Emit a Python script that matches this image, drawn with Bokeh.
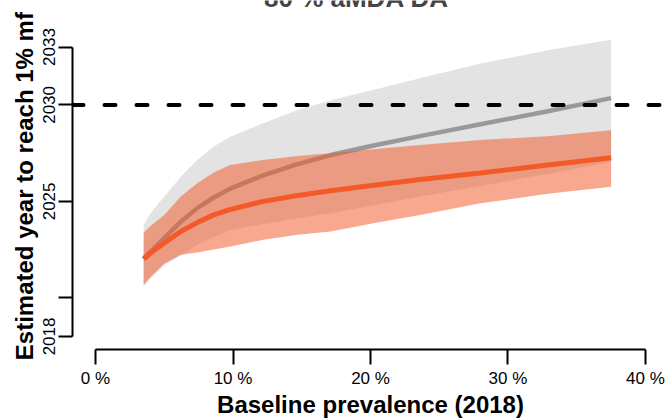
from bokeh.plotting import figure
from bokeh.models import Range1d, FixedTicker, Span, Label, Title, ColumnDataSource
from bokeh.embed import file_html
from bokeh.resources import INLINE

# ---- data ----
prevalence = [3.5, 4.0, 5.0, 6.2, 7.4, 8.6, 9.8, 12.2, 14.7, 17.1, 20.4, 23.6, 28.0, 32.9, 37.5]

grey_median = [2022.03, 2022.40, 2023.10, 2023.95, 2024.65, 2025.20, 2025.66, 2026.35,
               2026.93, 2027.40, 2027.92, 2028.38, 2029.00, 2029.67, 2030.35]
grey_upper = [2023.78, 2024.39, 2025.25, 2026.28, 2027.14, 2027.85, 2028.35, 2029.05,
              2029.73, 2030.24, 2030.81, 2031.38, 2032.14, 2032.83, 2033.38]
grey_lower = [2020.59, 2021.00, 2021.70, 2022.20, 2022.75, 2023.16, 2023.52, 2023.83,
              2024.12, 2024.39, 2024.82, 2025.25, 2025.80, 2026.42, 2027.05]

orange_median = [2022.01, 2022.32, 2022.84, 2023.44, 2023.90, 2024.30, 2024.58, 2025.00,
                 2025.30, 2025.55, 2025.85, 2026.13, 2026.47, 2026.88, 2027.26]
orange_upper = [2023.38, 2023.73, 2024.30, 2025.25, 2025.94, 2026.50, 2026.88, 2027.15,
                2027.35, 2027.49, 2027.71, 2027.92, 2028.18, 2028.38, 2028.69]
orange_lower = [2020.68, 2021.08, 2021.77, 2022.23, 2022.35, 2022.51, 2022.66, 2023.01,
                2023.27, 2023.44, 2023.89, 2024.30, 2024.90, 2025.39, 2025.76]

target_year = 2030

x_ticks = [0, 10, 20, 30, 40]
x_tick_labels = ["0 %", "10 %", "20 %", "30 %", "40 %"]
y_ticks = [2018, 2020, 2025, 2030, 2033]
y_tick_labels = ["2018", "", "2025", "2030", "2033"]

title_text = "80 % aMDA DA"
x_title = "Baseline prevalence (2018)"
y_title = "Estimated year to reach 1% mf"

# ---- styling ----
FONT = "Liberation Sans"
GREY_BAND = "#E3E3E3"
GREY_LINE = "#999999"
ORANGE = "#F4592A"

src = ColumnDataSource(dict(
    x=prevalence,
    gm=grey_median, gu=grey_upper, gl=grey_lower,
    om=orange_median, ou=orange_upper, ol=orange_lower,
))

p = figure(
    width=668, height=420,
    x_range=Range1d(-1.673, 41.673),
    y_range=Range1d(2017.323, 2035.411),
    output_backend="svg", toolbar_location=None,
    min_border_left=72, min_border_right=0, min_border_top=0, min_border_bottom=70,
)
p.outline_line_color = None
p.grid.visible = False
p.background_fill_color = "white"
p.border_fill_color = "white"

# bands and lines
p.varea(x="x", y1="gl", y2="gu", source=src, fill_color=GREY_BAND, fill_alpha=1.0)
p.line(x="x", y="gm", source=src, line_color=GREY_LINE, line_width=4.5)
p.varea(x="x", y1="ol", y2="ou", source=src, fill_color=ORANGE, fill_alpha=0.52)
p.line(x="x", y="om", source=src, line_color=ORANGE, line_width=5)

p.add_layout(Span(location=target_year, dimension="width", line_color="black",
                  line_width=4, line_dash="11 21", line_cap="round"))

# axes
xa = p.xaxis[0]
xa.ticker = FixedTicker(ticks=x_ticks)
xa.major_label_overrides = {float(t): s for t, s in zip(x_ticks, x_tick_labels)}
xa.bounds = (x_ticks[0], x_ticks[-1])
ya = p.yaxis[0]
ya.ticker = FixedTicker(ticks=y_ticks)
ya.major_label_overrides = {float(t): s for t, s in zip(y_ticks, y_tick_labels)}
ya.bounds = (y_ticks[0], y_ticks[-1])
ya.major_label_orientation = "vertical"

for ax in (xa, ya):
    ax.axis_line_width = 2
    ax.axis_line_color = "black"
    ax.major_tick_line_width = 2
    ax.major_tick_line_color = "black"
    ax.minor_tick_line_color = None
    ax.major_tick_in = 0
    ax.major_label_text_font = FONT
    ax.major_label_text_font_size = "17px"
    ax.major_label_text_color = "black"
xa.major_tick_out = 15
xa.major_label_standoff = 4
xa.axis_label = x_title
xa.axis_label_text_font = FONT
xa.axis_label_text_font_size = "24px"
xa.axis_label_text_font_style = "bold"
xa.axis_label_text_color = "black"
xa.axis_label_standoff = 0
ya.major_tick_out = 14
ya.major_label_standoff = 3

# y axis title as a side title (lets it be shifted along the axis)
p.add_layout(Title(text=y_title, align="left", offset=-10.7, standoff=6,
                   text_font=FONT, text_font_size="24px", text_font_style="bold",
                   text_color="black"), "left")

# chart title (cut by the top edge, as in the reference)
p.add_layout(Label(x=18.98, y=2035.565, text=title_text, text_font=FONT,
                   text_font_size="26px", text_font_style="bold",
                   text_align="center", text_baseline="alphabetic"))

open("out.html", "w").write(file_html(p, INLINE))
